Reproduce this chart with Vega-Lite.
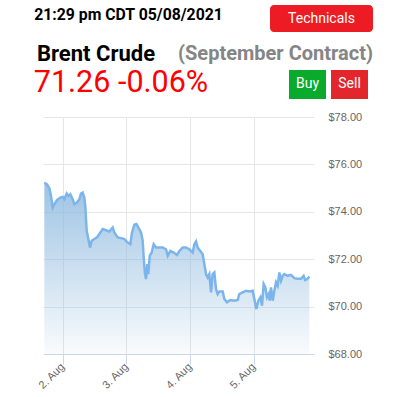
{
  "$schema": "https://vega.github.io/schema/vega-lite/v6.json",
  "background": "white",
  "padding": {"left": 33, "top": 5, "right": 0, "bottom": 0},
  "config": {"view": {"stroke": null}, "font": "Roboto"},
  "spacing": 0,
  "vconcat": [
    {
      "bounds": "flush",
      "spacing": 0,
      "hconcat": [
        {
          "width": 189, "height": 37,
          "data": {"values": [{"label": "21:29 pm CDT 05/08/2021"}]},
          "mark": {"type": "text", "font": "Roboto", "fontWeight": "bold", "fontSize": 15.8, "color": "#000000", "baseline": "alphabetic", "dy": -3.5},
          "encoding": {"text": {"field": "label"}}
        },
        {
          "width": 47, "height": 37,
          "data": {"values": [{"label": ""}]},
          "mark": {"type": "text"},
          "encoding": {"text": {"field": "label"}}
        },
        {
          "width": 103, "height": 27,
          "view": {"fill": "#ed1c24", "cornerRadius": 4, "stroke": null},
          "data": {"values": [{"label": "Technicals"}]},
          "mark": {"type": "text", "font": "Roboto", "fontSize": 14, "color": "#ffffff", "baseline": "middle"},
          "encoding": {"text": {"field": "label"}}
        }
      ]
    },
    {
      "bounds": "flush",
      "spacing": 0,
      "hconcat": [
        {
          "width": 124, "height": 25,
          "data": {"values": [{"label": "Brent Crude"}]},
          "mark": {"type": "text", "font": "Roboto", "fontWeight": "bold", "fontSize": 22, "color": "#000000", "baseline": "alphabetic", "dy": 5},
          "encoding": {"text": {"field": "label"}}
        },
        {
          "width": 20, "height": 25,
          "data": {"values": [{"label": ""}]},
          "mark": {"type": "text"},
          "encoding": {"text": {"field": "label"}}
        },
        {
          "width": 195, "height": 25,
          "data": {"values": [{"label": "(September Contract)"}]},
          "mark": {"type": "text", "font": "Roboto", "fontWeight": "bold", "fontSize": 20, "color": "#858585", "baseline": "alphabetic", "dy": 4.5},
          "encoding": {"text": {"field": "label"}}
        }
      ]
    },
    {
      "bounds": "flush",
      "spacing": 0,
      "hconcat": [
        {
          "width": 174, "height": 41,
          "data": {"values": [{"label": "71.26 -0.06%"}]},
          "mark": {"type": "text", "font": "Roboto", "fontSize": 30.5, "color": "#ff0000", "baseline": "alphabetic", "dy": 1.8},
          "encoding": {"text": {"field": "label"}}
        },
        {
          "width": 81, "height": 41,
          "data": {"values": [{"label": ""}]},
          "mark": {"type": "text"},
          "encoding": {"text": {"field": "label"}}
        },
        {
          "width": 37, "height": 29,
          "view": {"fill": "#0aab2c", "stroke": null},
          "data": {"values": [{"label": "Buy"}]},
          "mark": {"type": "text", "font": "Roboto", "fontSize": 14, "color": "#ffffff", "baseline": "middle", "dy": -1},
          "encoding": {"text": {"field": "label"}}
        },
        {
          "width": 5, "height": 41,
          "data": {"values": [{"label": ""}]},
          "mark": {"type": "text"},
          "encoding": {"text": {"field": "label"}}
        },
        {
          "width": 37, "height": 29,
          "view": {"fill": "#e3262b", "stroke": null},
          "data": {"values": [{"label": "Sell"}]},
          "mark": {"type": "text", "font": "Roboto", "fontSize": 14, "color": "#ffffff", "baseline": "middle", "dy": -1},
          "encoding": {"text": {"field": "label"}}
        }
      ]
    },
    {
      "bounds": "flush",
      "spacing": 0,
      "hconcat": [
        {
          "width": 9, "height": 237,
          "data": {"values": [{"label": ""}]},
          "mark": {"type": "text"},
          "encoding": {"text": {"field": "label"}}
        },
        {
          "width": 271, "height": 237,
          "data": {"values": [
            {"t": "2021-08-01T17:05Z", "p": 75.23}, {"t": "2021-08-01T18:05Z", "p": 75.16}, {"t": "2021-08-01T18:58Z", "p": 75.00},
            {"t": "2021-08-01T19:36Z", "p": 74.67}, {"t": "2021-08-01T20:14Z", "p": 74.18}, {"t": "2021-08-01T20:52Z", "p": 74.32},
            {"t": "2021-08-01T21:52Z", "p": 74.49}, {"t": "2021-08-01T23:07Z", "p": 74.60}, {"t": "2021-08-02T00:00Z", "p": 74.63},
            {"t": "2021-08-02T00:38Z", "p": 74.53}, {"t": "2021-08-02T01:30Z", "p": 74.77}, {"t": "2021-08-02T02:08Z", "p": 74.67},
            {"t": "2021-08-02T02:53Z", "p": 74.74}, {"t": "2021-08-02T03:46Z", "p": 74.53}, {"t": "2021-08-02T04:24Z", "p": 74.32},
            {"t": "2021-08-02T05:24Z", "p": 74.39}, {"t": "2021-08-02T06:17Z", "p": 74.53}, {"t": "2021-08-02T06:55Z", "p": 74.77},
            {"t": "2021-08-02T07:32Z", "p": 74.81}, {"t": "2021-08-02T08:10Z", "p": 74.60}, {"t": "2021-08-02T08:33Z", "p": 74.18},
            {"t": "2021-08-02T09:03Z", "p": 73.20}, {"t": "2021-08-02T09:40Z", "p": 72.85}, {"t": "2021-08-02T10:18Z", "p": 72.49},
            {"t": "2021-08-02T10:56Z", "p": 72.78}, {"t": "2021-08-02T11:56Z", "p": 72.85}, {"t": "2021-08-02T12:56Z", "p": 72.92},
            {"t": "2021-08-02T13:49Z", "p": 73.06}, {"t": "2021-08-02T15:05Z", "p": 73.27}, {"t": "2021-08-02T16:20Z", "p": 73.22},
            {"t": "2021-08-02T17:35Z", "p": 73.17}, {"t": "2021-08-02T18:51Z", "p": 73.34}, {"t": "2021-08-02T19:29Z", "p": 73.13},
            {"t": "2021-08-02T20:44Z", "p": 72.92}, {"t": "2021-08-02T21:59Z", "p": 72.89}, {"t": "2021-08-02T23:15Z", "p": 72.85},
            {"t": "2021-08-03T00:30Z", "p": 72.70}, {"t": "2021-08-03T01:31Z", "p": 72.63}, {"t": "2021-08-03T02:08Z", "p": 73.13},
            {"t": "2021-08-03T03:01Z", "p": 73.45}, {"t": "2021-08-03T03:46Z", "p": 73.48}, {"t": "2021-08-03T04:31Z", "p": 73.34},
            {"t": "2021-08-03T05:32Z", "p": 73.13}, {"t": "2021-08-03T06:09Z", "p": 72.78}, {"t": "2021-08-03T06:32Z", "p": 72.07},
            {"t": "2021-08-03T07:02Z", "p": 71.37}, {"t": "2021-08-03T07:25Z", "p": 71.16}, {"t": "2021-08-03T07:55Z", "p": 71.79},
            {"t": "2021-08-03T08:17Z", "p": 71.37}, {"t": "2021-08-03T08:48Z", "p": 72.14}, {"t": "2021-08-03T09:33Z", "p": 72.28},
            {"t": "2021-08-03T10:18Z", "p": 72.63}, {"t": "2021-08-03T11:11Z", "p": 72.49}, {"t": "2021-08-03T12:26Z", "p": 72.49},
            {"t": "2021-08-03T13:42Z", "p": 72.49}, {"t": "2021-08-03T14:57Z", "p": 72.42}, {"t": "2021-08-03T15:35Z", "p": 72.14},
            {"t": "2021-08-03T16:35Z", "p": 72.35}, {"t": "2021-08-03T17:50Z", "p": 72.28}, {"t": "2021-08-03T19:06Z", "p": 72.18},
            {"t": "2021-08-03T19:59Z", "p": 72.35}, {"t": "2021-08-03T21:14Z", "p": 72.49}, {"t": "2021-08-03T22:29Z", "p": 72.49},
            {"t": "2021-08-03T23:45Z", "p": 72.42}, {"t": "2021-08-04T01:00Z", "p": 72.28}, {"t": "2021-08-04T01:38Z", "p": 72.63},
            {"t": "2021-08-04T02:16Z", "p": 72.75}, {"t": "2021-08-04T02:53Z", "p": 72.49}, {"t": "2021-08-04T03:53Z", "p": 72.35},
            {"t": "2021-08-04T04:46Z", "p": 72.21}, {"t": "2021-08-04T05:24Z", "p": 71.79}, {"t": "2021-08-04T06:02Z", "p": 71.37},
            {"t": "2021-08-04T06:40Z", "p": 71.23}, {"t": "2021-08-04T07:17Z", "p": 71.37}, {"t": "2021-08-04T07:55Z", "p": 70.60},
            {"t": "2021-08-04T08:32Z", "p": 71.37}, {"t": "2021-08-04T09:10Z", "p": 71.44}, {"t": "2021-08-04T09:48Z", "p": 70.74},
            {"t": "2021-08-04T10:26Z", "p": 70.53}, {"t": "2021-08-04T11:04Z", "p": 70.64}, {"t": "2021-08-04T12:19Z", "p": 70.64},
            {"t": "2021-08-04T12:56Z", "p": 70.32}, {"t": "2021-08-04T13:57Z", "p": 70.18}, {"t": "2021-08-04T15:12Z", "p": 70.28},
            {"t": "2021-08-04T16:43Z", "p": 70.25}, {"t": "2021-08-04T17:58Z", "p": 70.28}, {"t": "2021-08-04T18:35Z", "p": 70.53},
            {"t": "2021-08-04T19:51Z", "p": 70.60}, {"t": "2021-08-04T21:07Z", "p": 70.67}, {"t": "2021-08-04T22:22Z", "p": 70.64},
            {"t": "2021-08-04T23:37Z", "p": 70.67}, {"t": "2021-08-05T00:15Z", "p": 70.32}, {"t": "2021-08-05T01:00Z", "p": 69.90},
            {"t": "2021-08-05T01:46Z", "p": 70.25}, {"t": "2021-08-05T02:31Z", "p": 70.39}, {"t": "2021-08-05T03:08Z", "p": 70.04},
            {"t": "2021-08-05T03:46Z", "p": 70.95}, {"t": "2021-08-05T04:24Z", "p": 70.81}, {"t": "2021-08-05T05:01Z", "p": 70.39},
            {"t": "2021-08-05T05:39Z", "p": 70.53}, {"t": "2021-08-05T06:02Z", "p": 70.25}, {"t": "2021-08-05T06:32Z", "p": 70.81},
            {"t": "2021-08-05T07:10Z", "p": 70.25}, {"t": "2021-08-05T07:47Z", "p": 70.67}, {"t": "2021-08-05T08:25Z", "p": 71.02},
            {"t": "2021-08-05T09:02Z", "p": 70.88}, {"t": "2021-08-05T09:40Z", "p": 71.44}, {"t": "2021-08-05T10:18Z", "p": 71.09},
            {"t": "2021-08-05T10:56Z", "p": 71.30}, {"t": "2021-08-05T11:34Z", "p": 71.37}, {"t": "2021-08-05T12:49Z", "p": 71.30},
            {"t": "2021-08-05T14:04Z", "p": 71.34}, {"t": "2021-08-05T15:20Z", "p": 71.20}, {"t": "2021-08-05T16:35Z", "p": 71.18},
            {"t": "2021-08-05T17:50Z", "p": 71.18}, {"t": "2021-08-05T18:50Z", "p": 71.30}, {"t": "2021-08-05T19:21Z", "p": 71.12},
            {"t": "2021-08-05T20:06Z", "p": 71.16}, {"t": "2021-08-05T20:59Z", "p": 71.26}
          ]},
          "encoding": {
            "x": {
              "field": "t", "type": "temporal",
              "scale": {"type": "utc", "domain": [
                {"year": 2021, "month": 8, "date": 1, "hours": 16, "minutes": 35, "utc": true},
                {"year": 2021, "month": 8, "date": 5, "hours": 22, "minutes": 44, "utc": true}
              ]},
              "axis": {
                "title": null,
                "values": [
                  {"year": 2021, "month": 8, "date": 2, "utc": true},
                  {"year": 2021, "month": 8, "date": 3, "utc": true},
                  {"year": 2021, "month": 8, "date": 4, "utc": true},
                  {"year": 2021, "month": 8, "date": 5, "utc": true}
                ],
                "labelExpr": "utcFormat(datum.value, '%-d. %b')",
                "labelAngle": -45, "labelAlign": "right", "labelBaseline": "alphabetic",
                "labelPadding": 3, "labelOffset": 2,
                "labelFont": "Liberation Sans", "labelFontSize": 11, "labelColor": "#666666",
                "tickSize": 10, "tickColor": "#ccd6eb", "domainColor": "#ccd6eb",
                "grid": true, "gridColor": "#e6e6e6"
              }
            },
            "y": {
              "field": "p", "type": "quantitative",
              "scale": {"domain": [68, 78], "zero": false, "nice": false},
              "axis": {
                "orient": "right", "title": null,
                "values": [68, 70, 72, 74, 76, 78], "format": "$.2f",
                "domain": false, "ticks": false, "labelPadding": 14,
                "labelFont": "Liberation Sans", "labelFontSize": 11, "labelColor": "#666666",
                "grid": true, "gridColor": "#e6e6e6"
              }
            }
          },
          "layer": [
            {
              "mark": {"type": "area", "clip": true, "fill": {
                "gradient": "linear", "x1": 0, "y1": 0, "x2": 0, "y2": 1,
                "stops": [
                  {"offset": 0, "color": "rgba(140,185,222,0.85)"},
                  {"offset": 1, "color": "rgba(140,185,222,0.05)"}
                ]
              }},
              "encoding": {"y2": {"datum": 68}}
            },
            {
              "mark": {"type": "line", "clip": true, "color": "#7cb5ec", "strokeWidth": 2.5}
            }
          ]
        }
      ]
    }
  ]
}
